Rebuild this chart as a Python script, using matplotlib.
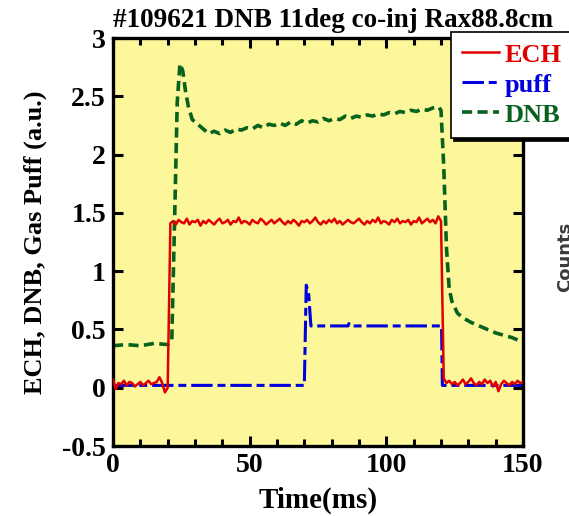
import numpy as np
import matplotlib
matplotlib.use('Agg')
import matplotlib.pyplot as plt

# ECH power, sampled every 1 ms from 0 to 150 ms
ech_value = [
    0.07, -0.01, 0.04, 0.03, 0.06, 0.02, 0.05, 0.04, 0.01, 0.03,
    0.05, 0.02, 0.04, 0.06, 0.03, 0.04, 0.05, 0.09, 0.04, -0.04,
    0.00, 1.41, 1.43, 1.40, 1.44, 1.42, 1.41, 1.45, 1.40, 1.43,
    1.42, 1.44, 1.39, 1.43, 1.41, 1.44, 1.42, 1.40, 1.43, 1.45,
    1.41, 1.42, 1.44, 1.40, 1.43, 1.42, 1.46, 1.41, 1.43, 1.42,
    1.40, 1.44, 1.42, 1.41, 1.45, 1.43, 1.40, 1.42, 1.44, 1.41,
    1.43, 1.45, 1.42, 1.40, 1.43, 1.41, 1.44, 1.42, 1.39, 1.43,
    1.42, 1.44, 1.41, 1.43, 1.46, 1.42, 1.40, 1.43, 1.41, 1.44,
    1.42, 1.45, 1.41, 1.43, 1.40, 1.42, 1.44, 1.42, 1.41, 1.43,
    1.45, 1.42, 1.40, 1.43, 1.41, 1.44, 1.42, 1.46, 1.41, 1.43,
    1.42, 1.40, 1.44, 1.42, 1.45, 1.41, 1.43, 1.42, 1.44, 1.40,
    1.43, 1.42, 1.46, 1.41, 1.43, 1.45, 1.42, 1.44, 1.41, 1.47,
    1.43, 0.08, 0.04, 0.06, 0.03, 0.05, 0.02, 0.04, 0.07, 0.03,
    0.05, 0.08, 0.04, 0.02, 0.05, 0.03, 0.07, 0.04, 0.06, 0.01,
    0.05, -0.03, 0.03, 0.06, 0.04, 0.02, 0.05, 0.03, 0.06, 0.04,
    0.05]
ech_time = np.arange(len(ech_value))

# gas puff
puff_time = [0, 70, 70.7, 71.6, 72.4, 80, 86, 86.3, 87, 120.2, 120.5, 150]
puff_value = [0.02, 0.02, 0.88, 0.80, 0.53, 0.53, 0.53, 0.55, 0.53, 0.53, 0.02, 0.02]

# DNB signal
dnb_time = [0, 5, 10, 15, 20, 21.5, 22.5, 23.5, 24.5, 25.5, 26.5, 27.5, 29,
            31, 33, 35, 37, 39, 41, 43, 45, 47, 49, 51, 53, 55, 57, 59,
            61, 63, 65, 67, 69, 71, 73, 75, 77, 79, 81, 83, 85, 87, 89,
            91, 93, 95, 97, 99, 101, 103, 105, 107, 109, 111, 113, 115, 117, 119,
            120, 121, 122, 123, 124, 126, 128, 131, 134, 137, 140, 143, 146, 150]
dnb_value = [0.36, 0.37, 0.36, 0.38, 0.37, 0.40, 1.40, 2.45, 2.78, 2.72, 2.55, 2.42, 2.30,
             2.26, 2.22, 2.18, 2.20, 2.18, 2.21, 2.19, 2.22, 2.21, 2.23, 2.22, 2.25, 2.23, 2.26, 2.25,
             2.27, 2.25, 2.28, 2.26, 2.29, 2.27, 2.29, 2.28, 2.31, 2.29, 2.31, 2.30, 2.33, 2.31, 2.33,
             2.32, 2.34, 2.33, 2.35, 2.34, 2.36, 2.35, 2.37, 2.36, 2.38, 2.37, 2.39, 2.38, 2.40, 2.41,
             2.38, 1.90, 1.20, 0.85, 0.74, 0.64, 0.60, 0.56, 0.53, 0.50, 0.47, 0.45, 0.43, 0.39]

plt.rcParams['font.family'] = 'Liberation Serif'
plt.rcParams['font.weight'] = 'bold'

fig = plt.figure(figsize=(5.69, 5.16), dpi=100)
ax = fig.add_axes([113 / 569, 70 / 516, 410 / 569, 408 / 516])
ax.set_facecolor('#fdf79b')

ax.plot(ech_time, ech_value, color='#e00000', lw=1.8, label='ECH', zorder=3)
ax.plot(puff_time, puff_value, color='#0000dd', lw=2.2, dashes=(7, 1.6, 2.6, 1.6),
        label='puff', zorder=2)
ax.plot(dnb_time, dnb_value, color='#06621c', lw=2.6, dashes=(2.8, 1.5),
        label='DNB', zorder=2)

ax.set_xlim(0, 150)
ax.set_ylim(-0.5, 3)
ax.set_xticks([0, 50, 100, 150])
ax.set_xticks(np.arange(0, 151, 10), minor=True)
ax.set_yticks([-0.5, 0, 0.5, 1, 1.5, 2, 2.5, 3])
ax.set_yticklabels(['-0.5', '0', '0.5', '1', '1.5', '2', '2.5', '3'])
ax.tick_params(which='both', direction='in', top=True, right=True, width=2.2,
               labelsize=20, pad=5)
ax.tick_params(which='major', length=7)
ax.tick_params(which='minor', length=5)
for s in ax.spines.values():
    s.set_linewidth(2.4)

ax.set_xlabel('Time(ms)', fontsize=21, fontweight='bold', labelpad=6)
ax.set_ylabel('ECH, DNB, Gas Puff (a.u.)', fontsize=19, fontweight='bold', labelpad=11)
ax.set_title('#109621 DNB 11deg co-inj Rax88.8cm', fontsize=19.5, fontweight='bold',
             loc='left', x=0.0, pad=8)

leg = ax.legend(loc='upper left', bbox_to_anchor=(451 / 569, 1 - 32 / 516),
                bbox_transform=fig.transFigure, fontsize=19, frameon=True,
                fancybox=False, edgecolor='black', framealpha=1,
                shadow={'color': 'black', 'alpha': 1, 'ox': 2.5, 'oy': -2.5},
                handlelength=1.4, handletextpad=0.2, labelspacing=0.25,
                borderpad=0.42, borderaxespad=0)
leg.get_frame().set_linewidth(1.2)
leg.set_zorder(10)
for txt, ln in zip(leg.get_texts(), leg.get_lines()):
    txt.set_color(ln.get_color())

# label of the neighbouring panel, cut by the figure edge
fig.text(556 / 569, 1 - 292 / 516, 'Counts', rotation=90, color='#3a3a3a',
         fontsize=13, family='DejaVu Sans', fontweight='bold', ha='left', va='bottom')

fig.savefig('out.png', dpi=100)
